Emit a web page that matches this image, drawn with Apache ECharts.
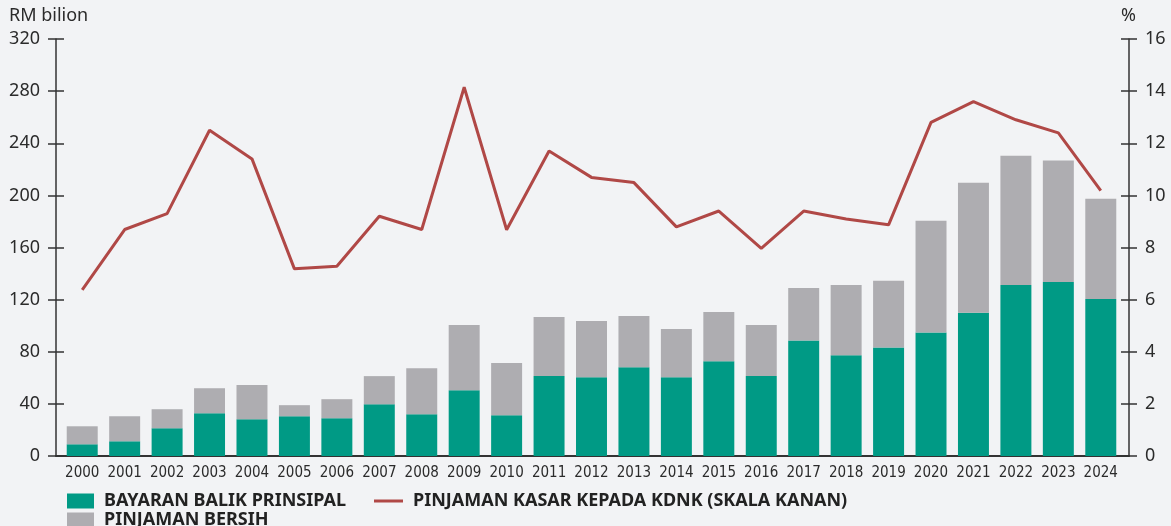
<!DOCTYPE html>
<html>
<head>
<meta charset="utf-8">
<script src="https://cdn.jsdelivr.net/npm/echarts@6/dist/echarts.min.js"></script>
<style>
  html, body { margin: 0; padding: 0; background: #f2f3f5; }
  #chart { width: 1171px; height: 526px; }
</style>
</head>
<body>
<div id="chart"></div>
<script>
// data
var years = ['2000', '2001', '2002', '2003', '2004', '2005', '2006', '2007', '2008', '2009', '2010', '2011', '2012',
  '2013', '2014', '2015', '2016', '2017', '2018', '2019', '2020', '2021', '2022', '2023', '2024'];
var bayaranBalik = [9, 11.3, 21.3, 32.8, 28.2, 30.5, 29, 39.7, 32, 50.5, 31.3, 61.3, 60.5,
  68.2, 60.5, 72.8, 61.3, 88.6, 77.4, 83.2, 94.8, 110, 131.3, 133.6, 120.5];
var pinjamanBersih = [13.8, 19.2, 14.6, 19.2, 26.2, 8.5, 14.6, 21.6, 35.4, 50, 40, 45.4, 43.1,
  39.2, 36.9, 37.7, 39.2, 40.4, 53.9, 51.2, 85.7, 99.7, 99.2, 93.1, 76.9];
var pinjamanKasar = [6.37, 8.69, 9.3, 12.5, 11.4, 7.18, 7.28, 9.2, 8.69, 14.15, 8.68, 11.7, 10.69,
  10.49, 8.79, 9.4, 7.97, 9.4, 9.09, 8.87, 12.8, 13.6, 12.9, 12.4, 10.18];

var txt = '#2b2b2b';
var lineClr = '#333';
var legendText = { color: '#222', fontSize: 18, fontWeight: 'bold', fontFamily: 'Noto Sans', padding: [0, 0, 0, 5] };

var chart = echarts.init(document.getElementById('chart'));

function yAx(pos, max, interval, offset, inside, labels) {
  return {
    type: 'value', position: pos, min: 0, max: max, interval: interval, offset: offset,
    axisLine: { show: !inside, lineStyle: { color: lineClr, width: 1.5 } },
    axisTick: { show: true, inside: inside, length: 8, lineStyle: { color: lineClr, width: 1.5 } },
    axisLabel: { show: labels, color: txt, fontSize: 18, fontFamily: 'Noto Sans', margin: 16 },
    splitLine: { show: false }
  };
}

var option = {
  backgroundColor: '#f2f3f5',
  animation: false,
  grid: [
    { left: 61, right: 49, top: 39, bottom: 70 },
    { left: 56, right: 42, top: 39, bottom: 70 }
  ],
  graphic: [
    { type: 'text', left: 9, top: 7, style: { text: 'RM bilion', fill: txt, font: '18px "Noto Sans"' } },
    { type: 'text', left: 1121, top: 7, style: { text: '%', fill: txt, font: '18px "Noto Sans"' } }
  ],
  legend: [
    {
      left: 67, top: 492, padding: 0, itemWidth: 27, itemHeight: 15, icon: 'rect',
      data: ['BAYARAN BALIK PRINSIPAL'], textStyle: legendText
    },
    {
      left: 67, top: 511, padding: 0, itemWidth: 27, itemHeight: 15, icon: 'rect',
      data: ['PINJAMAN BERSIH'], textStyle: legendText
    },
    {
      left: 374, top: 492, padding: 0, itemWidth: 29, itemHeight: 3, icon: 'rect',
      data: ['PINJAMAN KASAR KEPADA KDNK (SKALA KANAN)'], textStyle: legendText
    }
  ],
  xAxis: [
    {
      type: 'category', data: years, gridIndex: 0,
      axisLine: { show: false },
      axisTick: { show: false },
      axisLabel: { color: txt, fontSize: 15, interval: 0, margin: 10,
        fontFamily: "'DejaVu Sans Condensed', sans-serif" }
    },
    {
      type: 'value', gridIndex: 1, min: 0, max: 1,
      axisLine: { show: true, lineStyle: { color: lineClr, width: 2 } },
      axisTick: { show: false }, axisLabel: { show: false }, splitLine: { show: false }
    }
  ],
  yAxis: [
    yAx('left', 320, 40, 5, false, true),
    yAx('right', 16, 2, 7, false, true),
    yAx('left', 320, 40, 5, true, false),
    yAx('right', 16, 2, 7, true, false),
    { type: 'value', gridIndex: 1, show: false }
  ],
  series: [
    {
      name: 'BAYARAN BALIK PRINSIPAL', type: 'bar', stack: 'a', barWidth: '73%',
      itemStyle: { color: '#009a85' }, data: bayaranBalik
    },
    {
      name: 'PINJAMAN BERSIH', type: 'bar', stack: 'a', barWidth: '73%',
      itemStyle: { color: '#aeadb1' }, data: pinjamanBersih
    },
    {
      name: 'PINJAMAN KASAR KEPADA KDNK (SKALA KANAN)', type: 'line', yAxisIndex: 1,
      symbol: 'none', z: 5,
      lineStyle: { color: '#b04846', width: 3 }, itemStyle: { color: '#b04846' },
      data: pinjamanKasar
    }
  ]
};

chart.setOption(option);
window.onresize = function () { chart.resize(); };
</script>
</body>
</html>
